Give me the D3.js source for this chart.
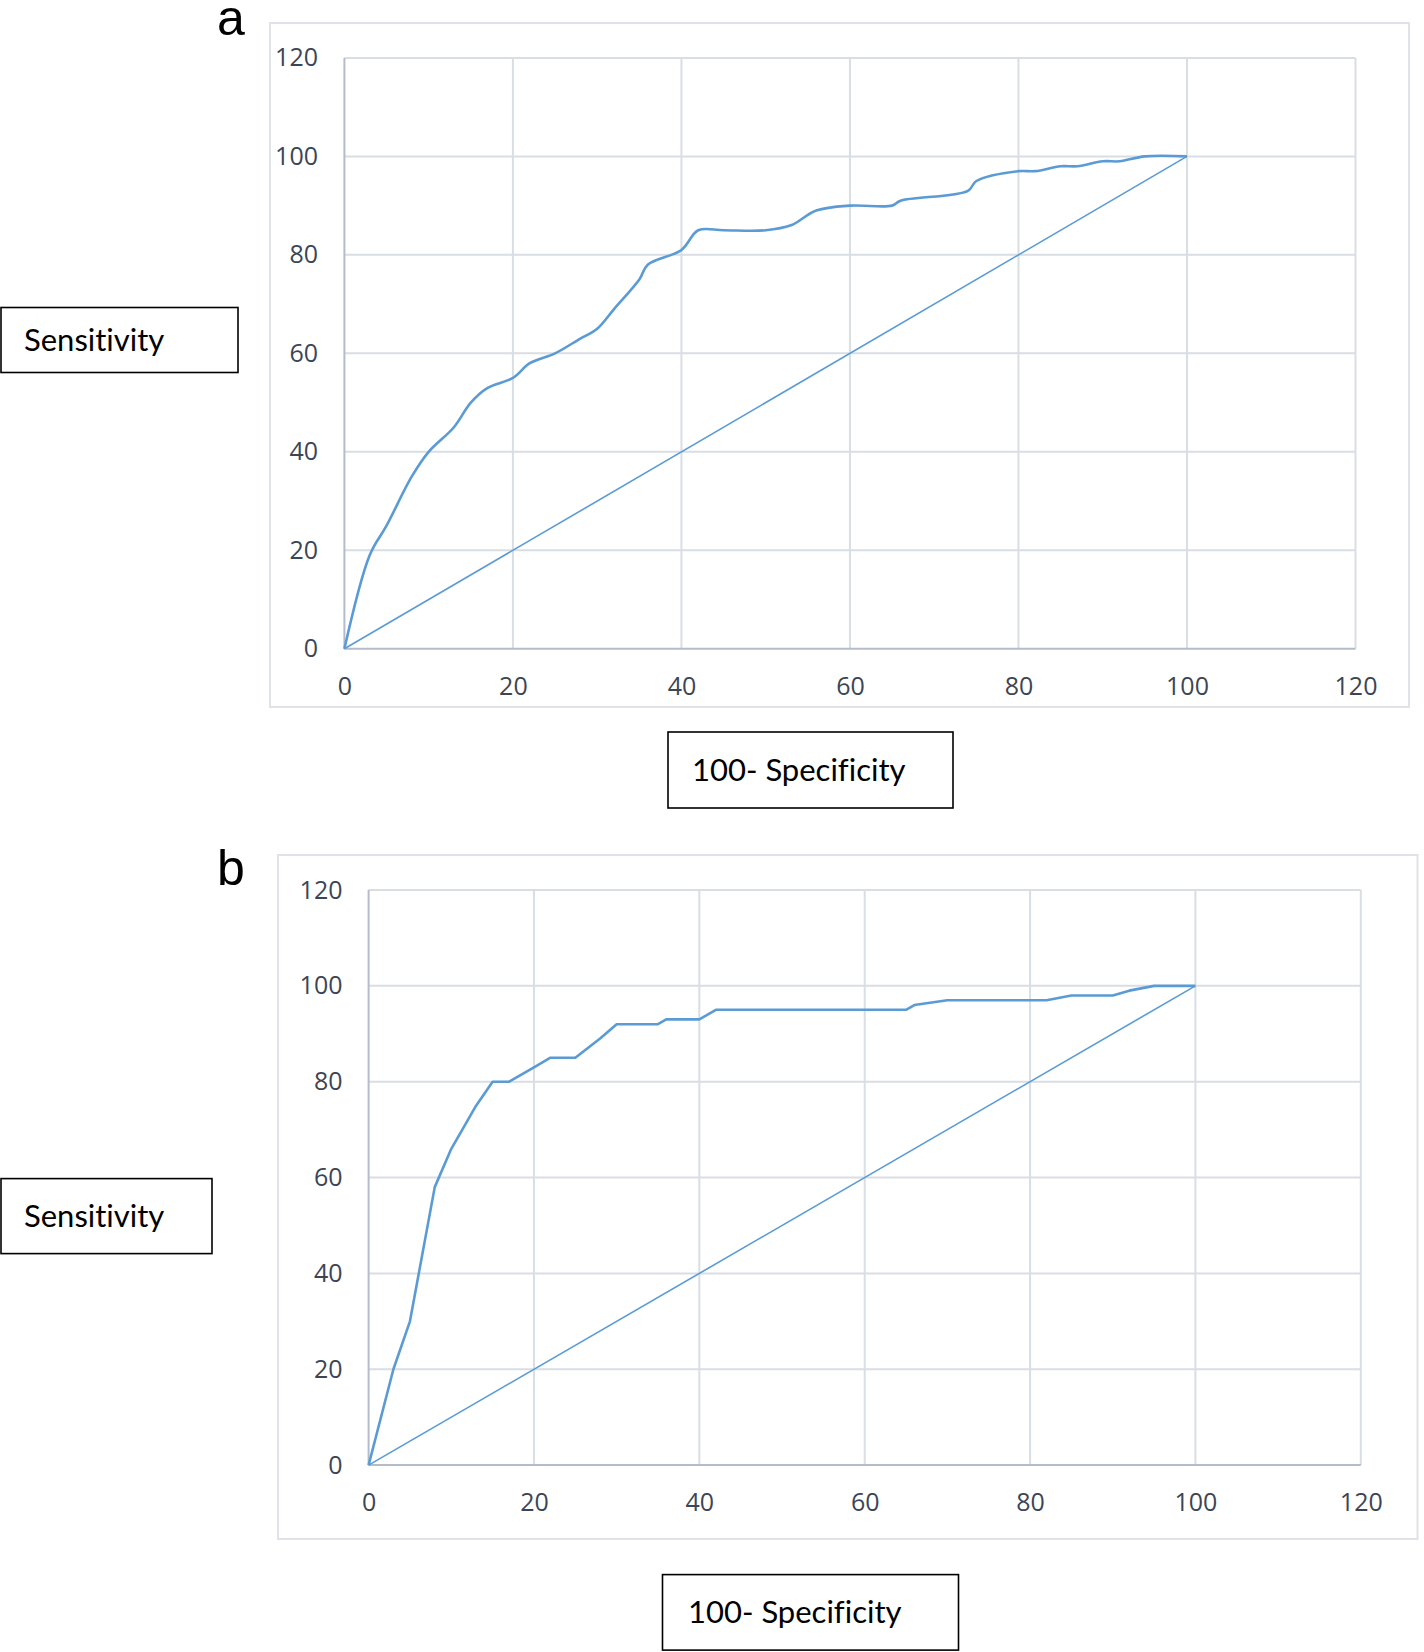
<!DOCTYPE html>
<html>
<head>
<meta charset="utf-8">
<script src="https://cdn.jsdelivr.net/npm/d3@7"></script>
<style>
  body { margin: 0; background: #fff; }
  svg { display: block; }
</style>
</head>
<body>
<svg id="chart"></svg>
<script>
// panel a: smoothed ROC curve, (100 - specificity, sensitivity)
const rocA = [
  [0, 0], [3, 19], [5, 25], [8, 35], [10, 40], [13, 45], [15, 50], [17, 53],
  [20, 55], [22, 58], [25, 60], [28, 63], [30, 65], [32, 69], [35, 75], [36, 78],
  [40, 81], [42, 85], [45, 85], [50, 85], [53, 86], [56, 89], [60, 90], [65, 90],
  [66, 91], [74, 93], [75, 95], [80, 97], [82, 97], [85, 98], [87, 98], [90, 99],
  [92, 99], [95, 100], [100, 100]
];
// panel b: straight ROC curve
const rocB = [
  [0, 0], [3, 20], [5, 30], [8, 58], [10, 66], [13, 75], [15, 80], [17, 80],
  [20, 83], [22, 85], [25, 85], [28, 89], [30, 92], [35, 92], [36, 93], [40, 93],
  [42, 95], [65, 95], [66, 96], [70, 97], [82, 97], [85, 98], [90, 98], [92, 99],
  [95, 100], [100, 100]
];
const reference = [[0, 0], [100, 100]];
const ticks = [0, 20, 40, 60, 80, 100, 120];
const panelNames = ["a", "b"];
const yLabel = "Sensitivity";
const xLabel = "100- Specificity";

const width = 1424, height = 1652;
const svg = d3.select("#chart")
    .attr("width", width)
    .attr("height", height)
    .attr("viewBox", [0, 0, width, height]);

const lineColor = "#5b9bd5";
const gridColor = "#d9dee5";
const tickColor = "#3b4556";

function panel({name, data, smooth, frame, plot, yLabelRight, xLabelY, letter, yBox, xBox}) {
  const x = d3.scaleLinear().domain([0, 120]).range([plot.x0, plot.x1]);
  const y = d3.scaleLinear().domain([0, 120]).range([plot.y0, plot.y1]);

  svg.append("rect")
      .attr("x", frame.x).attr("y", frame.y)
      .attr("width", frame.w).attr("height", frame.h)
      .attr("fill", "#fff")
      .attr("stroke", "#dfe2e6")
      .attr("stroke-width", 2);

  const g = svg.append("g");

  // gridlines
  g.append("g")
      .attr("stroke", gridColor)
      .attr("stroke-width", 2)
    .selectAll("line.h")
    .data(ticks.slice(1))
    .join("line")
      .attr("x1", x(0)).attr("x2", x(120))
      .attr("y1", d => y(d)).attr("y2", d => y(d));
  g.append("g")
      .attr("stroke", gridColor)
      .attr("stroke-width", 2)
    .selectAll("line.v")
    .data(ticks.slice(1))
    .join("line")
      .attr("y1", y(0)).attr("y2", y(120))
      .attr("x1", d => x(d)).attr("x2", d => x(d));

  // axis lines
  g.append("line")
      .attr("x1", x(0)).attr("x2", x(0)).attr("y1", y(0)).attr("y2", y(120))
      .attr("stroke", "#b4bccb").attr("stroke-width", 2);
  g.append("line")
      .attr("x1", x(0)).attr("x2", x(120)).attr("y1", y(0)).attr("y2", y(0))
      .attr("stroke", "#b4bccb").attr("stroke-width", 2);

  // tick labels
  const xAxis = d3.axisBottom(x).tickValues(ticks).tickSize(0).tickPadding(0);
  g.append("g")
      .attr("transform", `translate(0,${xLabelY})`)
      .call(xAxis)
      .call(s => s.select(".domain").remove())
      .call(s => s.selectAll("text")
          .attr("dy", "0.35em")
          .attr("fill", tickColor)
          .attr("font-family", "'Open Sans', sans-serif")
          .attr("font-size", 25));
  const yAxis = d3.axisLeft(y).tickValues(ticks).tickSize(0).tickPadding(0);
  g.append("g")
      .attr("transform", `translate(${yLabelRight},0)`)
      .call(yAxis)
      .call(s => s.select(".domain").remove())
      .call(s => s.selectAll("text")
          .attr("fill", tickColor)
          .attr("font-family", "'Open Sans', sans-serif")
          .attr("font-size", 25));

  // diagonal
  const line = d3.line().x(d => x(d[0])).y(d => y(d[1]));
  g.append("path")
      .attr("d", line(reference))
      .attr("fill", "none")
      .attr("stroke", lineColor)
      .attr("stroke-width", 1.6);

  // roc curve
  const roc = d3.line()
      .curve(smooth ? d3.curveCatmullRom.alpha(0.5) : d3.curveLinear)
      .x(d => x(d[0])).y(d => y(d[1]));
  g.append("path")
      .attr("d", roc(data))
      .attr("fill", "none")
      .attr("stroke", lineColor)
      .attr("stroke-width", 2.6)
      .attr("stroke-linejoin", "round");

  // panel letter
  svg.append("text")
      .attr("x", letter.x).attr("y", letter.y)
      .attr("text-anchor", "middle")
      .attr("font-family", "'Liberation Sans', Arial, sans-serif")
      .attr("font-size", 50)
      .attr("fill", "#000")
      .text(name);

  // label boxes
  for (const b of [{...yBox, text: yLabel}, {...xBox, text: xLabel}]) {
    svg.append("rect")
        .attr("x", b.x).attr("y", b.y).attr("width", b.w).attr("height", b.h)
        .attr("fill", "#fff").attr("stroke", "#000").attr("stroke-width", 1.6);
    svg.append("text")
        .attr("x", b.tx).attr("y", b.y + b.h / 2)
        .attr("dy", "0.35em")
        .attr("font-family", "Lato, 'Open Sans', sans-serif")
        .attr("font-size", 31)
        .style("font-variant-ligatures", "none")
        .attr("fill", "#000")
        .text(b.text);
  }
}

panel({
  name: panelNames[0], data: rocA, smooth: true,
  frame: {x: 270, y: 23, w: 1139, h: 684},
  plot: {x0: 344.4, x1: 1355.5, y0: 648.8, y1: 57.9},
  yLabelRight: 318, xLabelY: 686,
  letter: {x: 231, y: 35},
  yBox: {x: 1, y: 307.5, w: 237, h: 65, tx: 24},
  xBox: {x: 668, y: 732, w: 285, h: 76, tx: 692}
});

panel({
  name: panelNames[1], data: rocB, smooth: false,
  frame: {x: 278, y: 855, w: 1139.5, h: 684},
  plot: {x0: 368.6, x1: 1360.8, y0: 1465.1, y1: 890},
  yLabelRight: 342.5, xLabelY: 1502,
  letter: {x: 231, y: 885},
  yBox: {x: 1, y: 1178.6, w: 211, h: 75, tx: 24},
  xBox: {x: 662.5, y: 1574.6, w: 296, h: 75.5, tx: 688}
});
</script>
</body>
</html>
